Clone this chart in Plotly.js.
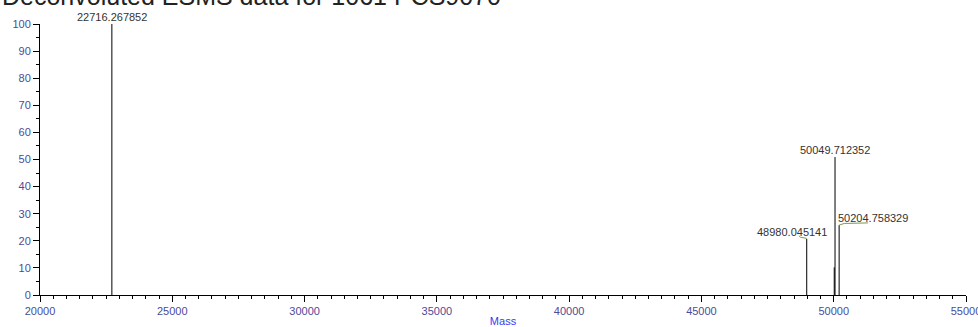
<!DOCTYPE html>
<html>
<head>
<meta charset="utf-8">
<script src="https://cdn.plot.ly/plotly-3.0.1.min.js"></script>
<style>html,body{margin:0;padding:0;background:#fff;}#chart{width:978px;height:327px;}</style>
</head>
<body>
<div id="chart"></div>
<script>
// Peak data (mass, relative intensity %)
const peakMass = [22716.267852, 48980.045141, 50020.0, 50049.712352, 50204.758329];
const peakIntensity = [100, 20.7, 10.2, 50.9, 25.8];
const labelled = [true, true, false, true, true];
const xTickVals = [20000, 25000, 30000, 35000, 40000, 45000, 50000, 55000];
const yTickVals = [0, 10, 20, 30, 40, 50, 60, 70, 80, 90, 100];
const titleText = "Deconvoluted ESMS data for 1061 PCS9070";

const xs = [], ys = [];
peakMass.forEach((m, i) => { xs.push(m, m, null); ys.push(0, peakIntensity[i], null); });

const trace = {
  x: xs, y: ys, type: 'scatter', mode: 'lines',
  line: {color: '#000', width: 1}, hoverinfo: 'skip', showlegend: false
};

// label placement styles (offsets in px) per labelled peak
const labelStyle = {
  0: {xanchor: 'center', xs: 0, ys: -1},
  1: {xanchor: 'right', xs: 22, ys: -1},
  3: {xanchor: 'center', xs: 0, ys: -1},
  4: {xanchor: 'left', xs: -3, ys: -1}
};

const annotations = [];
const shapes = [];
peakMass.forEach((m, i) => {
  if (!labelled[i]) return;
  const s = labelStyle[i];
  annotations.push({
    x: m, y: peakIntensity[i], xref: 'x', yref: 'y',
    text: m.toFixed(6), showarrow: false,
    xanchor: s.xanchor, yanchor: 'bottom',
    xshift: s.xs, yshift: s.ys,
    font: {family: 'Arial, Liberation Sans, sans-serif', size: 11, color: '#333'}
  });
});
// cropped title at the very top
annotations.push({
  x: 0, y: 1, xref: 'paper', yref: 'paper', xanchor: 'left', yanchor: 'middle',
  xshift: -40, yshift: 28, showarrow: false, text: titleText,
  font: {family: 'Arial, Liberation Sans, sans-serif', size: 25, color: '#222'}
});
// green leader lines
shapes.push({type: 'path', xref: 'x', yref: 'y',
  path: `M ${48680} ${peakIntensity[1] + 1.2} L ${48750} ${peakIntensity[1] + 0.6} L ${peakMass[1]} ${peakIntensity[1] + 0.2}`,
  line: {color: '#7a9a50', width: 1}});
shapes.push({type: 'path', xref: 'x', yref: 'y',
  path: `M ${peakMass[4]} ${peakIntensity[4]} L ${50400} ${peakIntensity[4] + 0.6} L ${51300} ${peakIntensity[4] + 0.8}`,
  line: {color: '#7a9a50', width: 1}});

const tickFont = {family: 'Arial, Liberation Sans, sans-serif', size: 11, color: '#4b4b9b'};

const layout = {
  width: 978, height: 327,
  margin: {l: 40, r: 12, t: 24, b: 32},
  paper_bgcolor: '#fff', plot_bgcolor: '#fff',
  xaxis: {
    range: [20000, 55000], tickvals: xTickVals, ticktext: xTickVals.map(String),
    ticklabeloverflow: 'allow',
    showgrid: false, zeroline: false, showline: true, linecolor: '#000', linewidth: 1,
    ticks: 'outside', ticklen: 6, tickcolor: '#000', tickfont: tickFont,
    minor: {dtick: 500, ticks: 'outside', ticklen: 3, tickcolor: '#000', showgrid: false},
    title: {text: 'Mass', standoff: 2, font: {family: 'Arial, Liberation Sans, sans-serif', size: 11, color: '#3a3af0'}}
  },
  yaxis: {
    range: [0, 100], tickvals: yTickVals,
    showgrid: false, zeroline: false, showline: true, linecolor: '#000', linewidth: 1,
    ticks: 'outside', ticklen: 6, tickcolor: '#000', tickfont: tickFont,
    minor: {dtick: 5, ticks: 'outside', ticklen: 3, tickcolor: '#000', showgrid: false}
  },
  annotations: annotations,
  shapes: shapes
};

Plotly.newPlot('chart', [trace], layout, {displayModeBar: false, staticPlot: true});
</script>
</body>
</html>
